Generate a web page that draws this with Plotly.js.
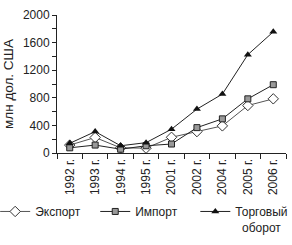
<!DOCTYPE html>
<html><head><meta charset="utf-8">
<script src="https://cdn.plot.ly/plotly-3.0.1.min.js"></script>
<style>html,body{margin:0;padding:0;background:#fff}#c{width:292px;height:245px}</style>
</head><body><div id="c"></div>
<script>
const years = ['1992 г.','1993 г.','1994 г.','1995 г.','2001 г.','2002 г.','2004 г.','2005 г.','2006 г.'];
const exportVals = [115, 225, 75, 70, 228, 310, 393, 688, 785];
const importVals = [75, 115, 55, 105, 130, 368, 495, 785, 990];
const tradeVals = [140, 310, 105, 150, 345, 636, 854, 1425, 1756];
const yTicks = [0, 400, 800, 1200, 1600, 2000];

const font = {family: 'Liberation Sans, Arial, sans-serif', size: 12, color: '#222'};
const traces = [
  {x: years, y: exportVals, name: 'Экспорт', mode: 'lines+markers', legend: 'legend',
   line: {color: '#555', width: 1}, marker: {symbol: 'diamond', size: 8, color: '#fff', line: {color: '#333', width: 1}}},
  {x: years, y: importVals, name: 'Импорт', mode: 'lines+markers', legend: 'legend2',
   line: {color: '#222', width: 1}, marker: {symbol: 'square', size: 6, color: '#999', line: {color: '#222', width: 1}}},
  {x: years, y: tradeVals, name: 'Торговый<br>&nbsp;&nbsp;оборот', mode: 'lines+markers', legend: 'legend3',
   line: {color: '#222', width: 1}, marker: {symbol: 'triangle-up', size: 7, color: '#111'}}
];
function leg(x) {
  return {orientation: 'v', x: x, xanchor: 'left', y: -0.32, yanchor: 'top', valign: 'top',
          font: font, itemwidth: 30, bgcolor: 'rgba(0,0,0,0)'};
}
const layout = {
  width: 292, height: 245,
  margin: {l: 57, r: 6, t: 15, b: 92, autoexpand: false},
  paper_bgcolor: '#fff', plot_bgcolor: '#fff',
  font: font, showlegend: true,
  xaxis: {type: 'category', showgrid: false, zeroline: false, showline: true, linecolor: '#222', linewidth: 1,
          ticks: 'outside', ticklen: 5, tickcolor: '#222', tickson: 'boundaries', tickangle: -90,
          tickfont: font, range: [-0.5, 8.5], automargin: false},
  yaxis: {range: [0, 2000], tickvals: yTicks, showgrid: false, zeroline: false, showline: true, linecolor: '#222',
          ticks: 'outside', ticklen: 4, tickcolor: '#222', tickfont: font, automargin: false,
          minor: {dtick: 200, ticks: 'outside', ticklen: 4, tickcolor: '#222'},
          title: {text: 'млн дол. США', font: Object.assign({}, font, {size: 13.5}), standoff: 6}},
  legend: leg(-0.27),
  legend2: leg(0.167),
  legend3: leg(0.604)
};
Plotly.newPlot('c', traces, layout, {staticPlot: true});
</script></body></html>
